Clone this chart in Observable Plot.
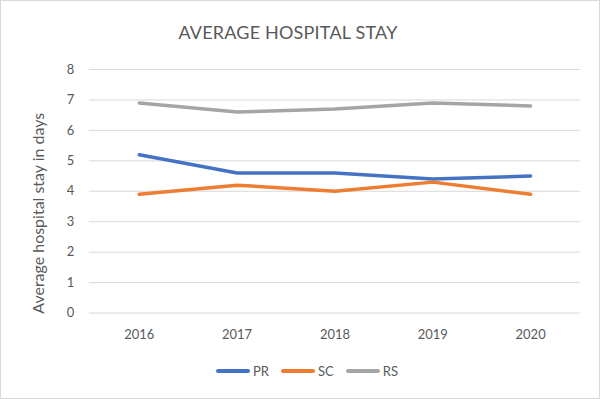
<!DOCTYPE html>
<html>
<head>
<meta charset="utf-8">
<script src="https://cdn.jsdelivr.net/npm/d3@7"></script>
<script src="https://cdn.jsdelivr.net/npm/@observablehq/plot@0.6"></script>
<style>
  html, body { margin: 0; padding: 0; background: #fff; }
  #chart { position: relative; width: 600px; height: 399px; box-sizing: border-box; border: 1px solid #d9d9d9; font-family: Lato, "Open Sans", sans-serif; color: #595959; overflow: hidden; }
  #title { position: absolute; top: 20px; left: 0; width: 574px; text-align: center; font-size: 18px; color: #595959; letter-spacing: 0.2px; }
  #plot { position: absolute; top: 50px; left: -1px; }
  #legend { position: absolute; top: 362px; left: 6px; width: 600px; display: flex; justify-content: center; gap: 12px; font-size: 13px; color: #595959; }
  .item { display: flex; align-items: center; gap: 3px; }
  .sw { width: 34px; height: 4px; border-radius: 2px; }
</style>
</head>
<body>
<div id="chart">
  <div id="title">AVERAGE HOSPITAL STAY</div>
  <div id="plot"></div>
  <div id="legend"></div>
</div>
<script>
const years = ["2016", "2017", "2018", "2019", "2020"];
const seriesNames = ["PR", "SC", "RS"];
const seriesColors = ["#4472C4", "#ED7D31", "#A5A5A5"];
const PR = [5.2, 4.6, 4.6, 4.4, 4.5];
const SC = [3.9, 4.2, 4.0, 4.3, 3.9];
const RS = [6.9, 6.6, 6.7, 6.9, 6.8];
const yTicks = [0, 1, 2, 3, 4, 5, 6, 7, 8];

const valuesBySeries = {PR, SC, RS};
const data = [];
for (const s of seriesNames) {
  years.forEach((y, i) => data.push({year: y, series: s, value: valuesBySeries[s][i]}));
}

const plot = Plot.plot({
  width: 600,
  height: 300,
  marginLeft: 89,
  marginRight: 19,
  marginTop: 18,
  marginBottom: 38,
  style: {fontFamily: "Lato, 'Open Sans', sans-serif", fontSize: "13px", color: "#595959", background: "transparent"},
  x: {type: "point", domain: years, padding: 0.5, label: null},
  y: {domain: [0, 8], ticks: yTicks, label: null},
  color: {domain: seriesNames, range: seriesColors},
  marks: [
    Plot.gridY(yTicks, {stroke: "#d9d9d9", strokeOpacity: 1, strokeWidth: 1}),
    Plot.axisY(yTicks, {tickSize: 0, tickPadding: 15, fontSize: 13, label: null}),
    Plot.axisX({tickSize: 0, tickPadding: 17, fontSize: 13, label: null}),
    Plot.line(data, {x: "year", y: "value", z: "series", stroke: "series", strokeWidth: 3.5, strokeLinecap: "round", strokeLinejoin: "round"}),
    Plot.text(["Average hospital stay in days"], {frameAnchor: "left", textAnchor: "middle", dx: -51, dy: 22, rotate: -90, fontSize: 16, fill: "#595959"})
  ]
});
document.getElementById("plot").appendChild(plot);

const legend = document.getElementById("legend");
seriesNames.forEach((s, i) => {
  const item = document.createElement("div");
  item.className = "item";
  const sw = document.createElement("div");
  sw.className = "sw";
  sw.style.background = seriesColors[i];
  const lab = document.createElement("span");
  lab.textContent = s;
  item.appendChild(sw);
  item.appendChild(lab);
  legend.appendChild(item);
});
</script>
</body>
</html>
